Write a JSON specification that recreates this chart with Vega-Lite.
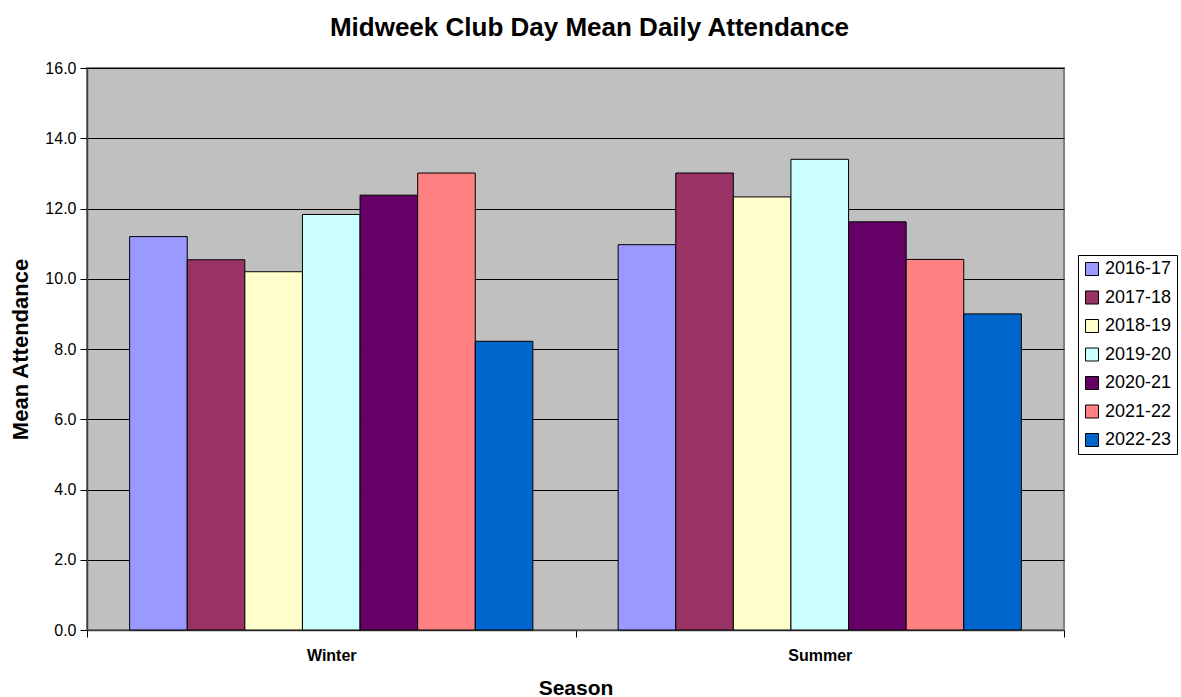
{
  "$schema": "https://vega.github.io/schema/vega-lite/v6.json",
  "width": 977,
  "height": 562,
  "autosize": "none",
  "padding": {"left": 87, "top": 68, "right": 117, "bottom": 67},
  "background": "white",
  "title": {
    "text": "Midweek Club Day Mean Daily Attendance",
    "font": "Liberation Sans",
    "fontSize": 26,
    "fontWeight": "bold",
    "color": "black",
    "anchor": "middle",
    "dx": 14,
    "offset": 19
  },
  "data": {
    "values": [
      {"season": "Winter", "year": "2016-17", "value": 11.2},
      {"season": "Winter", "year": "2017-18", "value": 10.54},
      {"season": "Winter", "year": "2018-19", "value": 10.2},
      {"season": "Winter", "year": "2019-20", "value": 11.83},
      {"season": "Winter", "year": "2020-21", "value": 12.38},
      {"season": "Winter", "year": "2021-22", "value": 13.01},
      {"season": "Winter", "year": "2022-23", "value": 8.22},
      {"season": "Summer", "year": "2016-17", "value": 10.97},
      {"season": "Summer", "year": "2017-18", "value": 13.01},
      {"season": "Summer", "year": "2018-19", "value": 12.33},
      {"season": "Summer", "year": "2019-20", "value": 13.4},
      {"season": "Summer", "year": "2020-21", "value": 11.62},
      {"season": "Summer", "year": "2021-22", "value": 10.55},
      {"season": "Summer", "year": "2022-23", "value": 9.0}
    ]
  },
  "mark": {"type": "bar", "stroke": "black", "strokeWidth": 1},
  "encoding": {
    "x": {
      "field": "season",
      "type": "nominal",
      "sort": ["Winter", "Summer"],
      "scale": {"paddingInner": 0, "paddingOuter": 0},
      "axis": {
        "title": "Season",
        "titleFont": "Liberation Sans",
        "titleFontSize": 21,
        "titleFontWeight": "bold",
        "titleColor": "black",
        "titlePadding": 14,
        "labelAngle": 0,
        "labelFont": "Liberation Sans",
        "labelFontSize": 16,
        "labelFontWeight": "bold",
        "labelColor": "black",
        "labelPadding": 10,
        "tickBand": "extent",
        "tickSize": 7,
        "tickColor": "black",
        "domainColor": "#404040",
        "domainWidth": 1.5
      }
    },
    "xOffset": {
      "field": "year",
      "type": "nominal",
      "scale": {"paddingInner": 0, "paddingOuter": 0.74}
    },
    "y": {
      "field": "value",
      "type": "quantitative",
      "scale": {"domain": [0, 16], "nice": false, "zero": true},
      "axis": {
        "title": "Mean Attendance",
        "titleFont": "Liberation Sans",
        "titleFontSize": 22,
        "titleFontWeight": "bold",
        "titleColor": "black",
        "titlePadding": 12,
        "values": [0, 2, 4, 6, 8, 10, 12, 14, 16],
        "format": ".1f",
        "labelFont": "Liberation Sans",
        "labelFontSize": 16,
        "labelColor": "black",
        "labelPadding": 4,
        "tickSize": 7,
        "tickColor": "black",
        "domainColor": "#404040",
        "domainWidth": 1.5,
        "grid": true,
        "gridColor": "black",
        "gridWidth": 1,
        "gridOpacity": 1
      }
    },
    "fill": {
      "field": "year",
      "type": "nominal",
      "scale": {
        "domain": ["2016-17", "2017-18", "2018-19", "2019-20", "2020-21", "2021-22", "2022-23"],
        "range": ["#9999FF", "#993366", "#FFFFCC", "#CCFFFF", "#660066", "#FF8080", "#0066CC"]
      },
      "legend": {
        "title": null,
        "orient": "none",
        "legendX": 991,
        "legendY": 187,
        "strokeColor": "black",
        "fillColor": "white",
        "padding": 5,
        "symbolType": "square",
        "symbolSize": 169,
        "symbolStrokeColor": "black",
        "symbolStrokeWidth": 1,
        "labelFont": "Liberation Sans",
        "labelFontSize": 18,
        "labelColor": "black",
        "labelOffset": 4,
        "rowPadding": 10.5
      }
    }
  },
  "config": {
    "view": {"fill": "#C0C0C0", "stroke": "#808080", "strokeWidth": 2}
  }
}
